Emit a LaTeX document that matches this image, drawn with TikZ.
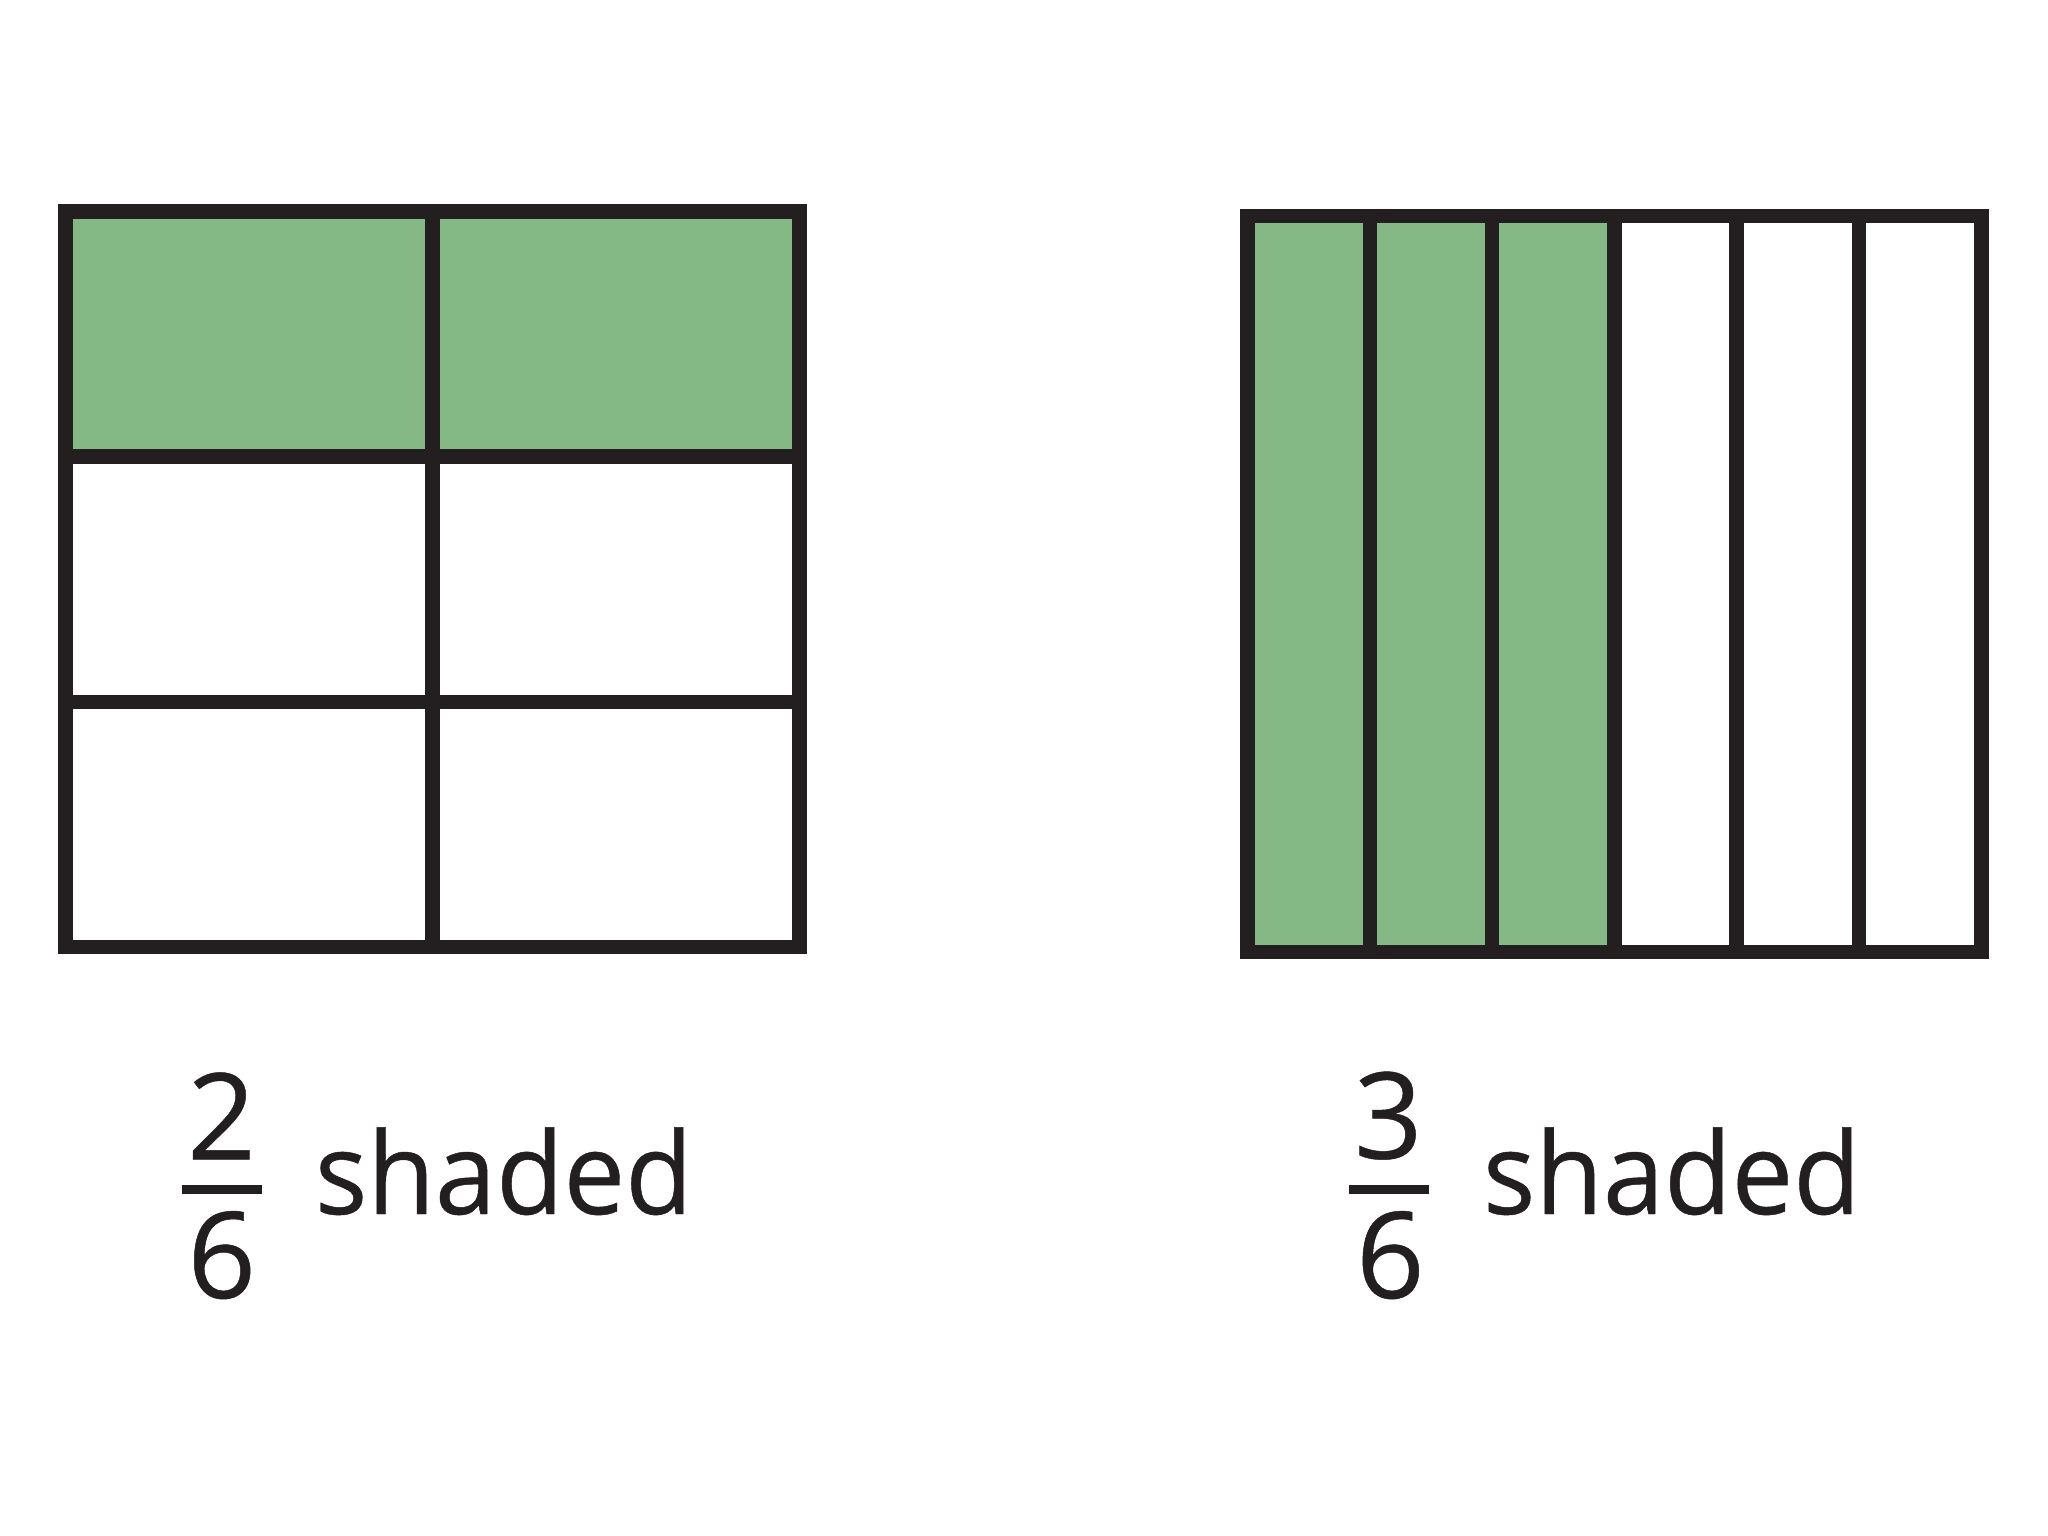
\documentclass[tikz,border=0pt]{standalone}
\usepackage{fontspec}
\setmainfont{Open Sans}
\newfontfamily\lblfont{Open Sans}[FakeStretch=0.965,FakeBold=0.4]
\newfontfamily\numfont{Open Sans}[FakeBold=0.4]
\definecolor{ink}{HTML}{231F20}
\definecolor{leaf}{HTML}{84B985}
\begin{document}
\begin{tikzpicture}[x=1pt,y=-1pt,
  gridline/.style={draw=ink,line width=14.5pt},
  shadedcell/.style={fill=leaf},
  lbl/.style={inner sep=0pt,text=ink,font=\lblfont\fontsize{114}{120}\selectfont},
  numlbl/.style={inner sep=0pt,text=ink,font=\numfont\fontsize{120}{126}\selectfont},
  fracbar/.style={draw=ink,line width=9pt}]
\useasboundingbox[fill=white] (0,0) rectangle (2048,1536);
% left grid
\fill[shadedcell] (65.5,211.5) rectangle (799.3,456.5);
\draw[gridline] (65.5,211.5) rectangle (799.3,947.2);
\draw[gridline] (432.7,211.5) -- (432.7,947.2);
\draw[gridline] (65.5,456.5) -- (799.3,456.5);
\draw[gridline] (65.5,701.8) -- (799.3,701.8);
% right grid
\fill[shadedcell] (1247.5,216.2) rectangle (1614.3,952);
\draw[gridline] (1247.5,216.2) rectangle (1981.3,952);
\foreach \x in {1369.8,1492,1614.3,1736.7,1858.9}
  \draw[gridline] (\x,216.2) -- (\x,952);
% left label
\node[numlbl,anchor=base] (n1) at (221.5,1159.3) {2};
\node[numlbl,anchor=base] (d1) at (221.7,1298) {6};
\coordinate (b1l) at (181.7,1189.8);
\coordinate (b1r) at (262.3,1189.8);
\draw[fracbar] (b1l) -- (b1r);
\node[lbl,anchor=base west] (t1) at (314.7,1214) {shaded};
% right label
\node[numlbl,anchor=base] (n2) at (1388.3,1158.5) {3};
\node[numlbl,anchor=base] (d2) at (1390.3,1298) {6};
\coordinate (b2l) at (1349.3,1189.8);
\coordinate (b2r) at (1429.3,1189.8);
\draw[fracbar] (b2l) -- (b2r);
\node[lbl,anchor=base west] (t2) at (1482.7,1214) {shaded};
\end{tikzpicture}
\end{document}
